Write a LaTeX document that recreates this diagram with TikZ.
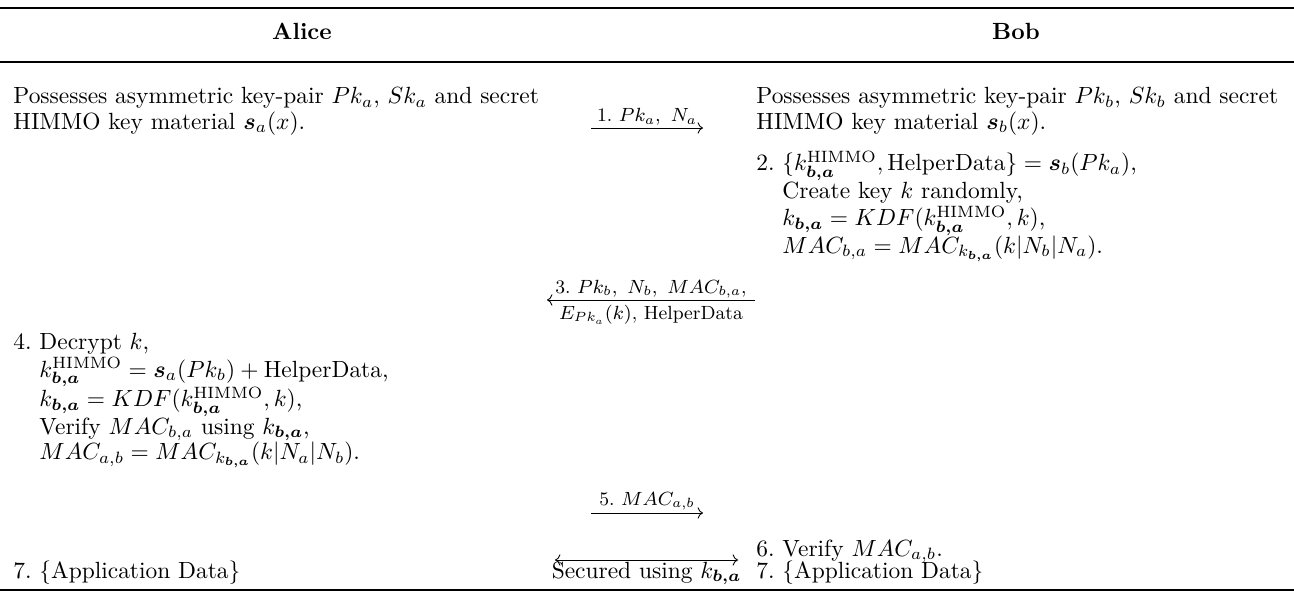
\RequirePackage{fix-cm}
\documentclass[tikz,border=0pt]{standalone}
\usepackage{amsmath}
\usepackage{xcolor}
\usepackage{tikz}
\usetikzlibrary{arrows.meta, positioning}
\newcommand{\kba}{k_{\boldsymbol{b,a}}}
\newcommand{\khimmo}{k^{\mathrm{HIMMO}}_{\boldsymbol{b,a}}}
\newcommand{\cellfont}{\fontsize{10.8}{11.6}\selectfont}

\begin{document}
\begin{tikzpicture}[x=0.4608pt, y=-0.4608pt,
  cell/.style={anchor=base west, inner sep=0pt, font=\cellfont},
  head/.style={anchor=base, inner sep=0pt, font=\cellfont\bfseries},
  msg/.style={-{To}, line width=0.4pt},
  lbl/.style={font=\fontsize{8.8}{10}\selectfont, inner sep=1pt}]
  \def\alicex{13}
  \def\bobx{756}
  \useasboundingbox (0,0) rectangle (1294,595);

  % Rules of the table
  \draw[line width=0.8pt] (0,8) -- (1294,8);
  \draw[line width=0.5pt] (0,62) -- (1294,62);
  \draw[line width=0.8pt] (0,590) -- (1294,590);

  % Header
  \node[head] (alice) at (302,40) {Alice};
  \node[head] (bob) at (1016,40) {Bob};

  % Setup of both parties
  \node[cell] (a1) at (\alicex,104) {\begin{tabular}[t]{@{}l@{}}
    Possesses asymmetric key-pair $Pk_a$, $Sk_a$ and secret\\
    HIMMO key material $\boldsymbol{s}_a(x)$.\end{tabular}};
  \node[cell] (b1) at (\bobx,104) {\begin{tabular}[t]{@{}l@{}}
    Possesses asymmetric key-pair $Pk_b$, $Sk_b$ and secret\\
    HIMMO key material $\boldsymbol{s}_b(x)$.\end{tabular}};

  % Message 1: Alice -> Bob
  \coordinate (m1s) at (591,128);
  \coordinate (m1e) at (703,128);
  \draw[msg] (m1s) -- node[lbl, above] (m1) {1.\ $Pk_a,\ N_a$} (m1e);

  % Step 2 at Bob
  \node[cell] (b2) at (\bobx,171) {2.~\begin{tabular}[t]{@{}l@{}}
    $\{\khimmo, \mathrm{HelperData}\} = \boldsymbol{s}_b(Pk_a)$,\\
    Create key $k$ randomly,\\
    $\kba = KDF(\khimmo, k)$,\\
    $MAC_{b,a} = MAC_{\kba}(k|N_b|N_a)$.\end{tabular}};

  % Message 3: Bob -> Alice
  \coordinate (m3s) at (755,300);
  \coordinate (m3e) at (547,300);
  \draw[msg] (m3s) --
    node[lbl, above, inner sep=0.5pt] (m3a) {3.\ $Pk_b,\ N_b,\ MAC_{b,a}$,}
    node[lbl, below, inner sep=2pt] (m3b) {$E_{Pk_a}(k)$, HelperData} (m3e);

  % Step 4 at Alice
  \node[cell] (a4) at (\alicex,350) {4.~\begin{tabular}[t]{@{}l@{}}
    Decrypt $k$,\\
    $\khimmo = \boldsymbol{s}_a(Pk_b) + \mathrm{HelperData}$,\\
    $\kba = KDF(\khimmo, k)$,\\
    Verify $MAC_{b,a}$ using $\kba$,\\
    $MAC_{a,b} = MAC_{\kba}(k|N_a|N_b)$.\end{tabular}};

  % Message 5: Alice -> Bob
  \coordinate (m5s) at (591,513);
  \coordinate (m5e) at (703,513);
  \draw[msg] (m5s) -- node[lbl, above] (m5) {5.\ $MAC_{a,b}$} (m5e);

  % Step 6 and 7
  \node[cell] (b6) at (\bobx,556) {6.~Verify $MAC_{a,b}$.};
  \node[cell] (a7) at (\alicex,578) {7.~\{Application Data\}};
  \node[cell] (b7) at (\bobx,578) {7.~\{Application Data\}};

  % Secured channel
  \coordinate (m7s) at (555,560);
  \coordinate (m7e) at (738,560);
  \draw[{To}-{To}, line width=0.4pt] (m7s) --
    node[below, inner sep=0.5pt, font=\cellfont] (sec) {Secured using $\kba$} (m7e);
\end{tikzpicture}
\end{document}
